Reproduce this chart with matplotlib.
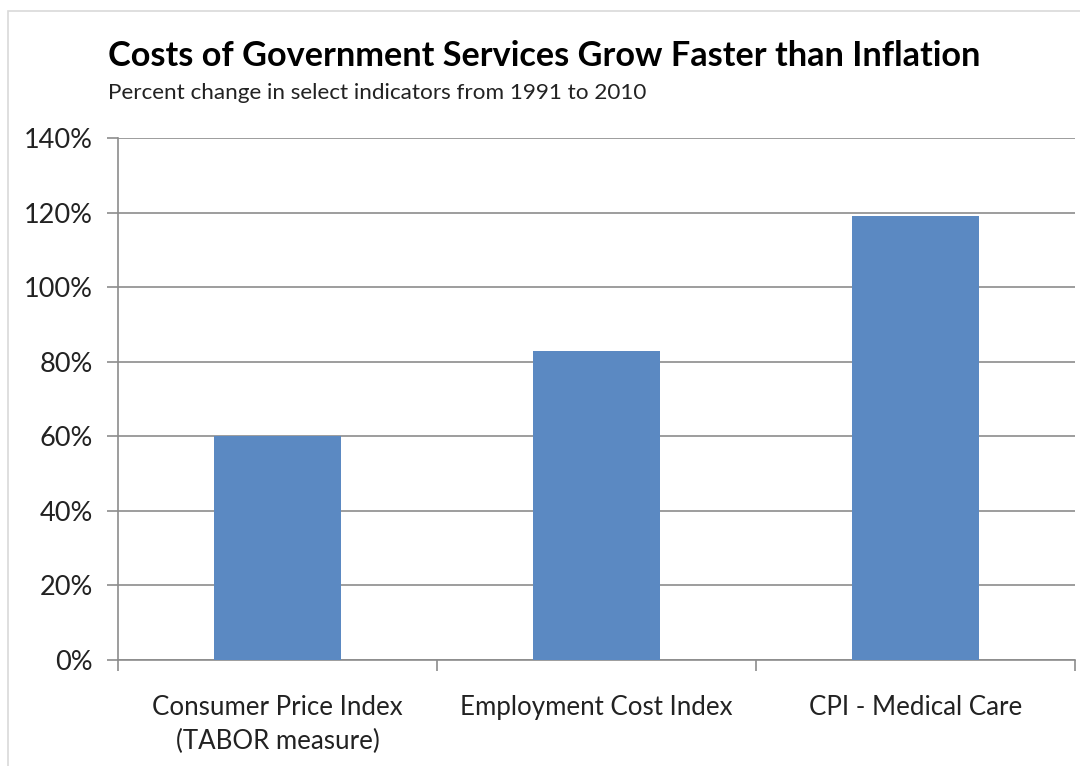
import matplotlib
matplotlib.use("Agg")
import matplotlib.pyplot as plt
from matplotlib.patches import Rectangle

categories = ["Consumer Price Index\n(TABOR measure)", "Employment Cost Index", "CPI - Medical Care"]
values = [60, 83, 119]
yticks = [0, 20, 40, 60, 80, 100, 120, 140]
ytick_labels = ["0%", "20%", "40%", "60%", "80%", "100%", "120%", "140%"]

plt.rcParams['font.family'] = ['Lato', 'DejaVu Sans']

fig = plt.figure(figsize=(10.8, 7.66), dpi=100)
fig.patches.append(Rectangle((8/1080, -0.01), 1.02, 1 - 11/766 + 0.01, transform=fig.transFigure,
                             fill=False, edgecolor="#d9d9d9", linewidth=1.2))

ax = fig.add_axes([118/1080, 1 - 660/766, (1075 - 118)/1080, (660 - 138)/766])

x = list(range(len(categories)))
ax.bar(x, values, width=0.4, color="#5b89c2", zorder=3)

ax.set_xlim(-0.5, len(categories) - 0.5)
ax.set_ylim(0, 140)
ax.set_yticks(yticks)
ax.set_yticklabels(ytick_labels, fontsize=19.5, color="#222222")
ax.yaxis.grid(True, color="#8c8c8c", linewidth=1.2, zorder=0)

ax.set_xticks(x)
ax.set_xticklabels(categories, fontsize=18.6, color="#222222", linespacing=1.45)
ax.tick_params(axis='x', length=0, pad=25)
ax.set_xticks([-0.5, 0.5, 1.5, 2.5], minor=True)
ax.tick_params(axis='x', which='minor', length=8, color="#8c8c8c", width=1.2)
ax.tick_params(axis='y', length=8, color="#8c8c8c", width=1.2, pad=10)

for side in ["top", "right"]:
    ax.spines[side].set_visible(False)
for side in ["left", "bottom"]:
    ax.spines[side].set_color("#8c8c8c")
    ax.spines[side].set_linewidth(1.2)

fig.text(108/1080, 1 - 66/766, "Costs of Government Services Grow Faster than Inflation",
         fontsize=24.7, fontweight="bold", color="black")
fig.text(108/1080, 1 - 99/766, "Percent change in select indicators from 1991 to 2010",
         fontsize=16.2, color="#222222")

fig.savefig("out.png", dpi=100)
